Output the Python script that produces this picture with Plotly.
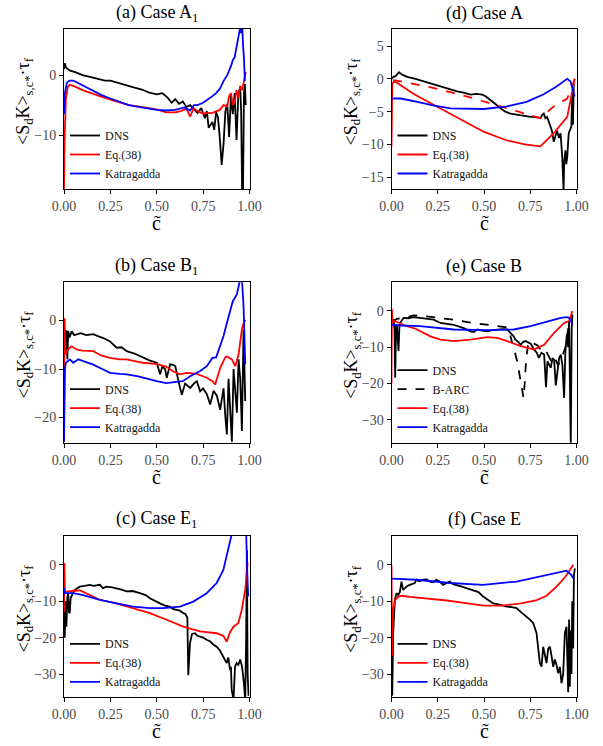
import plotly.graph_objects as go

# ---------------- data ----------------
x_tickvals = [0.0, 0.25, 0.5, 0.75, 1.0]
x_ticktext = ["0.00", "0.25", "0.50", "0.75", "1.00"]

# (a) Case A1
a_dns_c = [0.0, 0.005, 0.01, 0.03, 0.06, 0.1, 0.14, 0.18, 0.22, 0.25, 0.3, 0.34, 0.38, 0.42, 0.46, 0.5, 0.53, 0.56, 0.58, 0.6, 0.62, 0.64, 0.66, 0.68, 0.7, 0.72, 0.74, 0.76, 0.77, 0.78, 0.8, 0.81, 0.82, 0.83, 0.84, 0.85, 0.86, 0.87, 0.88, 0.89, 0.9, 0.91, 0.92, 0.93, 0.94, 0.95, 0.955, 0.96, 0.965, 0.97, 0.975, 0.98]
a_dns_v = [1.0, 2.0, 1.3, 0.8, 0.5, 0.0, -0.3, -0.6, -0.9, -0.9, -1.4, -1.8, -2.1, -2.4, -2.9, -3.2, -3.0, -3.8, -4.6, -4.0, -4.8, -4.4, -5.3, -5.0, -5.6, -6.3, -5.5, -7.2, -6.0, -8.8, -7.8, -9.1, -6.2, -7.0, -10.5, -15.0, -11.5, -6.0, -4.8, -10.3, -3.5, -6.5, -3.0, -10.8, -3.2, -2.0, -6.0, -19.0, -20.0, -3.0, -1.5, -5.0]
a_eq_c = [0.0, 0.003, 0.01, 0.02, 0.03, 0.05, 0.1, 0.15, 0.2, 0.25, 0.3, 0.35, 0.4, 0.45, 0.5, 0.55, 0.6, 0.63, 0.66, 0.68, 0.7, 0.72, 0.75, 0.8, 0.84, 0.86, 0.88, 0.89, 0.9, 0.91, 0.92, 0.93, 0.94, 0.95, 0.96, 0.97, 0.98]
a_eq_v = [-19.0, -11.0, -4.0, -2.0, -1.6, -1.8, -2.5, -3.1, -3.6, -4.1, -4.6, -5.0, -5.2, -5.5, -5.7, -6.2, -6.2, -6.0, -5.6, -6.9, -5.5, -6.0, -6.4, -6.3, -5.8, -5.0, -5.2, -3.5, -3.0, -5.0, -4.5, -2.5, -3.8, -1.8, -2.5, -1.0, 0.5]
a_kat_c = [0.0, 0.005, 0.015, 0.03, 0.05, 0.1, 0.15, 0.2, 0.25, 0.3, 0.35, 0.4, 0.45, 0.5, 0.55, 0.6, 0.65, 0.68, 0.7, 0.72, 0.75, 0.78, 0.8, 0.82, 0.84, 0.86, 0.88, 0.9, 0.91, 0.92, 0.93, 0.94, 0.95, 0.955, 0.96, 0.965, 0.97, 0.975]
a_kat_v = [-6.5, -3.0, -1.3, -0.9, -0.9, -1.7, -2.6, -3.3, -3.9, -4.5, -5.0, -5.3, -5.6, -5.8, -5.9, -5.8, -5.4, -5.9, -5.0, -5.0, -4.6, -4.0, -3.5, -3.0, -2.3, -1.0, 0.0, 1.5, 2.5, 3.0, 4.5, 6.0, 8.0, 7.0, 9.0, 5.0, 3.0, -1.0]

# (b) Case B1
b_dns_c = [0.0, 0.005, 0.01, 0.014, 0.018, 0.023, 0.03, 0.041, 0.055, 0.068, 0.09, 0.12, 0.158, 0.19, 0.212, 0.248, 0.284, 0.31, 0.338, 0.38, 0.428, 0.46, 0.5, 0.518, 0.53, 0.545, 0.554, 0.572, 0.59, 0.6, 0.617, 0.635, 0.653, 0.68, 0.7, 0.716, 0.734, 0.75, 0.77, 0.788, 0.806, 0.824, 0.842, 0.86, 0.87, 0.878, 0.887, 0.896, 0.905, 0.914, 0.923, 0.932, 0.941, 0.95, 0.959, 0.968, 0.977]
b_dns_v = [-1.0, -2.5, -6.5, -2.0, -8.0, -2.2, -3.5, -2.2, -3.0, -2.9, -2.6, -3.0, -2.8, -3.3, -3.6, -4.3, -5.6, -5.5, -6.3, -6.8, -7.7, -8.2, -8.7, -11.1, -9.5, -10.0, -11.8, -9.0, -9.2, -9.4, -12.5, -15.3, -13.0, -13.9, -13.0, -12.5, -14.6, -14.0, -15.2, -17.3, -14.5, -15.5, -18.4, -14.0, -20.0, -23.5, -12.0, -17.5, -25.0, -10.0, -15.0, -19.0, -8.0, -12.0, -22.8, -2.0, -16.6]
b_eq_c = [0.0, 0.003, 0.008, 0.02, 0.041, 0.07, 0.1, 0.158, 0.2, 0.248, 0.3, 0.338, 0.4, 0.428, 0.5, 0.55, 0.59, 0.625, 0.66, 0.7, 0.716, 0.77, 0.8, 0.815, 0.842, 0.87, 0.878, 0.905, 0.923, 0.941, 0.96, 0.977]
b_eq_v = [-25.0, 0.5, -7.0, -6.0, -5.3, -6.0, -6.2, -6.3, -7.2, -7.7, -8.0, -8.0, -8.5, -8.7, -9.0, -9.5, -10.5, -11.1, -10.8, -11.0, -11.0, -11.8, -12.5, -13.2, -9.8, -7.5, -7.4, -8.0, -9.4, -7.0, -1.5, 0.2]
b_kat_c = [0.0, 0.005, 0.01, 0.032, 0.05, 0.077, 0.1, 0.158, 0.2, 0.248, 0.3, 0.338, 0.4, 0.428, 0.5, 0.55, 0.59, 0.64, 0.68, 0.734, 0.77, 0.8, 0.82, 0.842, 0.86, 0.878, 0.9, 0.91, 0.932, 0.945, 0.955, 0.96, 0.968, 0.977]
b_kat_v = [-25.0, -10.0, -8.7, -8.0, -8.7, -8.0, -8.3, -9.1, -9.9, -10.8, -11.0, -11.1, -11.5, -11.8, -12.5, -12.9, -12.7, -12.5, -11.5, -10.4, -9.4, -7.7, -7.6, -5.0, -3.2, -0.5, 2.3, 4.0, 5.4, 8.0, 9.5, 8.0, 3.0, -9.0]

# (c) Case E1
c_dns_c = [0.0, 0.004, 0.008, 0.013, 0.018, 0.022, 0.027, 0.031, 0.036, 0.04, 0.05, 0.058, 0.07, 0.085, 0.11, 0.139, 0.16, 0.193, 0.21, 0.229, 0.26, 0.283, 0.31, 0.337, 0.37, 0.409, 0.44, 0.463, 0.49, 0.517, 0.545, 0.571, 0.59, 0.607, 0.625, 0.643, 0.655, 0.661, 0.665, 0.67, 0.675, 0.679, 0.69, 0.706, 0.72, 0.733, 0.75, 0.769, 0.787, 0.805, 0.823, 0.84, 0.859, 0.868, 0.877, 0.886, 0.895, 0.9, 0.904, 0.914, 0.922, 0.93, 0.94, 0.95, 0.96, 0.968, 0.977, 0.982, 0.986, 0.99, 0.995]
c_dns_v = [-8.0, -20.0, -10.0, -17.0, -9.0, -7.8, -13.0, -13.3, -9.0, -8.7, -7.5, -6.9, -6.5, -6.0, -5.8, -5.5, -5.8, -5.5, -6.4, -6.0, -6.2, -6.4, -6.8, -7.3, -7.2, -7.8, -8.3, -9.2, -10.0, -10.6, -11.2, -11.5, -12.2, -12.4, -12.6, -13.3, -13.5, -14.2, -14.5, -30.3, -25.0, -21.6, -19.0, -18.8, -19.5, -19.7, -20.0, -20.6, -21.0, -21.9, -22.5, -23.5, -25.2, -26.0, -27.0, -25.5, -28.9, -28.0, -34.4, -37.0, -28.0, -27.0, -27.5, -26.0, -28.0, -31.6, -37.0, -20.0, 4.0, -30.0, -36.0]
c_eq_c = [0.0, 0.002, 0.005, 0.022, 0.05, 0.085, 0.139, 0.193, 0.283, 0.373, 0.463, 0.553, 0.643, 0.733, 0.823, 0.859, 0.877, 0.895, 0.914, 0.94, 0.958, 0.977, 0.99]
c_eq_v = [-13.0, 0.5, -7.5, -7.3, -7.2, -7.0, -8.3, -9.6, -10.6, -11.9, -13.3, -15.1, -17.0, -18.3, -18.8, -19.5, -21.1, -18.5, -17.0, -16.0, -12.4, -6.9, 0.5]
c_kat_c = [0.0, 0.004, 0.013, 0.05, 0.103, 0.157, 0.193, 0.283, 0.373, 0.463, 0.535, 0.625, 0.697, 0.769, 0.823, 0.859, 0.886, 0.908, 0.93, 0.96, 0.982, 0.988, 0.993]
c_kat_v = [-6.4, -7.8, -7.8, -7.8, -8.3, -9.2, -9.6, -10.6, -11.5, -11.9, -11.9, -11.5, -10.1, -7.8, -5.0, -1.4, 4.1, 8.1, 14.0, 14.0, 8.7, -2.0, -8.7]

# (d) Case A
d_dns_c = [0.0, 0.01, 0.022, 0.035, 0.04, 0.06, 0.085, 0.13, 0.175, 0.22, 0.265, 0.31, 0.355, 0.39, 0.427, 0.46, 0.49, 0.51, 0.535, 0.56, 0.589, 0.615, 0.643, 0.67, 0.697, 0.72, 0.751, 0.78, 0.805, 0.815, 0.823, 0.832, 0.841, 0.85, 0.859, 0.868, 0.877, 0.886, 0.895, 0.905, 0.914, 0.923, 0.93, 0.934, 0.94, 0.945, 0.95, 0.958, 0.966, 0.972, 0.977, 0.981, 0.985]
d_dns_v = [0.0, 0.3, 0.4, 0.9, 1.0, 0.6, 0.3, 0.0, -0.4, -0.8, -1.2, -1.5, -1.9, -2.1, -2.4, -2.3, -2.4, -2.7, -3.2, -3.8, -4.5, -5.0, -5.3, -5.4, -5.5, -5.7, -5.8, -5.8, -6.0, -5.5, -5.3, -6.0, -5.8, -6.5, -7.3, -8.0, -9.6, -8.5, -7.9, -9.0, -8.3, -12.0, -17.0, -12.5, -10.9, -13.0, -11.9, -8.3, -7.5, -7.3, -2.2, -7.0, -0.7]
d_eq_c = [0.0, 0.004, 0.013, 0.03, 0.12, 0.25, 0.355, 0.5, 0.625, 0.72, 0.805, 0.877, 0.95, 0.977, 0.99]
d_eq_v = [-10.4, -0.8, -0.4, -0.6, -2.3, -4.3, -6.0, -8.1, -9.4, -10.0, -10.3, -8.3, -5.8, -1.7, 0.0]
d_eqd_c = [0.009, 0.05, 0.23, 0.41, 0.59, 0.77, 0.805, 0.877, 0.95, 0.977, 0.99]
d_eqd_v = [-0.2, -0.4, -1.4, -2.7, -4.2, -5.8, -6.0, -4.2, -3.0, -1.2, 0.0]
d_kat_c = [0.004, 0.05, 0.14, 0.23, 0.32, 0.5, 0.625, 0.73, 0.82, 0.89, 0.95, 0.968, 0.99]
d_kat_v = [-3.0, -3.0, -3.5, -4.1, -4.5, -4.6, -4.2, -3.5, -2.4, -1.2, 0.0, -0.4, -2.7]

# (e) Case B
e_dns_c = [0.0, 0.005, 0.011, 0.016, 0.02, 0.025, 0.029, 0.034, 0.038, 0.043, 0.047, 0.065, 0.09, 0.12, 0.155, 0.19, 0.228, 0.264, 0.3, 0.336, 0.39, 0.427, 0.445, 0.463, 0.49, 0.517, 0.545, 0.571, 0.6, 0.626, 0.644, 0.66, 0.67, 0.685, 0.698, 0.712, 0.725, 0.74, 0.752, 0.77, 0.785, 0.797, 0.81, 0.825, 0.835, 0.843, 0.852, 0.861, 0.87, 0.879, 0.888, 0.897, 0.906, 0.915, 0.924, 0.933, 0.94, 0.948, 0.955, 0.96, 0.965, 0.969, 0.974, 0.978]
e_dns_v = [-3.0, -2.8, -2.4, -5.0, -18.4, -4.0, -3.8, -8.0, -11.0, -4.0, -3.3, -1.9, -2.0, -1.7, -1.9, -2.0, -2.4, -3.3, -3.5, -3.8, -4.7, -5.6, -5.8, -5.1, -5.4, -5.6, -5.3, -5.1, -5.0, -5.1, -6.1, -7.0, -7.9, -8.5, -9.3, -8.5, -8.3, -8.8, -9.0, -10.6, -11.5, -12.9, -11.5, -12.0, -21.0, -13.9, -15.0, -15.7, -13.0, -13.5, -20.5, -16.6, -13.0, -12.0, -15.0, -24.0, -11.0, -6.4, -10.0, -2.8, -20.0, -36.8, -5.0, -1.0]
e_barc_c = [0.0, 0.02, 0.029, 0.047, 0.065, 0.1, 0.12, 0.19, 0.264, 0.336, 0.427, 0.517, 0.57, 0.62, 0.635, 0.65, 0.665, 0.68, 0.695, 0.705, 0.714, 0.72, 0.728, 0.738, 0.752, 0.77, 0.79, 0.81, 0.825, 0.84, 0.86, 0.88, 0.9, 0.92, 0.94, 0.955, 0.965, 0.975]
e_barc_v = [-3.0, -2.5, -2.2, -2.0, -2.0, -1.5, -1.2, -1.5, -1.9, -2.4, -3.2, -3.8, -4.2, -4.5, -5.5, -8.0, -11.0, -14.0, -19.0, -22.0, -24.0, -20.0, -13.0, -9.5, -8.3, -9.0, -9.5, -11.0, -12.0, -11.5, -13.5, -12.5, -15.0, -13.0, -10.0, -5.0, -2.0, -1.0]
e_eq_c = [0.0, 0.002, 0.005, 0.02, 0.029, 0.047, 0.083, 0.13, 0.21, 0.264, 0.336, 0.427, 0.517, 0.571, 0.626, 0.698, 0.77, 0.825, 0.879, 0.933, 0.96, 0.978]
e_eq_v = [-20.0, 0.5, -3.0, -2.8, -3.0, -3.5, -4.2, -4.9, -7.0, -7.9, -8.3, -7.9, -7.2, -7.4, -8.3, -9.7, -10.6, -9.3, -6.0, -3.3, -2.8, 0.0]
e_kat_c = [0.0, 0.05, 0.155, 0.336, 0.517, 0.66, 0.752, 0.843, 0.915, 0.95, 0.96, 0.97, 0.978]
e_kat_v = [-3.8, -4.0, -4.2, -5.1, -5.3, -5.1, -4.2, -2.8, -1.9, -1.7, -1.9, -2.8, -3.8]

# (f) Case E
f_dns_c = [0.0, 0.004, 0.009, 0.014, 0.018, 0.027, 0.036, 0.045, 0.054, 0.063, 0.072, 0.085, 0.099, 0.115, 0.126, 0.135, 0.15, 0.171, 0.19, 0.207, 0.225, 0.243, 0.26, 0.279, 0.3, 0.315, 0.333, 0.351, 0.38, 0.405, 0.441, 0.47, 0.495, 0.52, 0.55, 0.59, 0.622, 0.65, 0.676, 0.7, 0.72, 0.73, 0.75, 0.766, 0.784, 0.802, 0.811, 0.82, 0.829, 0.838, 0.847, 0.856, 0.865, 0.874, 0.883, 0.892, 0.901, 0.91, 0.919, 0.928, 0.937, 0.946, 0.955, 0.96, 0.964, 0.968, 0.973, 0.977, 0.982, 0.986, 0.991]
f_dns_v = [-25.0, -36.0, -18.8, -12.0, -9.6, -7.8, -8.3, -7.5, -4.6, -6.9, -6.4, -5.8, -5.5, -5.2, -5.0, -4.1, -4.5, -4.1, -4.0, -4.6, -4.8, -4.1, -4.6, -5.5, -5.0, -4.6, -5.3, -5.5, -6.0, -6.4, -6.9, -7.5, -8.7, -9.5, -10.6, -11.0, -11.5, -11.6, -11.9, -13.0, -13.8, -14.2, -15.1, -16.0, -18.8, -27.0, -28.0, -22.5, -25.0, -27.0, -23.0, -22.5, -25.0, -28.0, -26.0, -27.5, -29.8, -28.0, -32.5, -30.0, -18.8, -17.0, -35.0, -15.0, -33.5, -18.0, -30.0, -10.0, -23.0, -3.0, -1.0]
f_eq_c = [0.0, 0.003, 0.009, 0.02, 0.036, 0.054, 0.1, 0.2, 0.3, 0.4, 0.5, 0.6, 0.7, 0.78, 0.838, 0.892, 0.937, 0.964, 0.982]
f_eq_v = [0.0, -25.0, -12.4, -9.6, -8.8, -8.5, -8.8, -9.2, -9.8, -10.5, -11.2, -11.2, -10.6, -9.8, -8.5, -6.0, -3.5, -1.5, 0.0]
f_kat_c = [0.0, 0.05, 0.135, 0.315, 0.495, 0.676, 0.8, 0.91, 0.946, 0.973, 0.982]
f_kat_v = [-3.8, -3.9, -4.1, -5.0, -5.5, -4.6, -3.2, -1.8, -1.6, -2.8, -3.7]

titles = ["(a) Case A<sub>1</sub>", "(b) Case B<sub>1</sub>", "(c) Case E<sub>1</sub>",
          "(d) Case A", "(e) Case B", "(f) Case E"]
y_ranges = [[-19.0, 7.7], [-25.2, 7.9], [-36.4, 8.0], [-16.8, 7.6], [-36.3, 7.9], [-36.4, 8.0]]
y_tickvals = [[0, -10], [0, -10, -20], [0, -10, -20, -30],
              [5, 0, -5, -10, -15], [0, -10, -20, -30], [0, -10, -20, -30]]
y_ticktext = [["0", "\u221210"], ["0", "\u221210", "\u221220"], ["0", "\u221210", "\u221220", "\u221230"],
              ["5", "0", "\u22125", "\u221210", "\u221215"], ["0", "\u221210", "\u221220", "\u221230"],
              ["0", "\u221210", "\u221220", "\u221230"]]
ylabel = "&lt;S<sub>d</sub>K&gt;<sub>s,c*</sub>·τ<sub>f</sub>"
xlabel = "c̃"

# ---------------- layout geometry (window pixels) ----------------
W, H = 603, 746
col_px = [(64.0, 249.5), (391.5, 576.5)]
row_px = [(29.0, 189.0), (282.3, 442.7), (535.7, 697.3)]
panel_pos = [(0, 0), (0, 1), (0, 2), (1, 0), (1, 1), (1, 2)]  # (col,row)


def px(x):
    return x / W


def py(y):
    return 1 - y / H


SERIF = "Liberation Serif"
fig = go.Figure()

series = [
    [(a_dns_c, a_dns_v, "DNS", "black", "solid", True), (a_eq_c, a_eq_v, "Eq.(38)", "red", "solid", True), (a_kat_c, a_kat_v, "Katragadda", "blue", "solid", True)],
    [(b_dns_c, b_dns_v, "DNS", "black", "solid", True), (b_eq_c, b_eq_v, "Eq.(38)", "red", "solid", True), (b_kat_c, b_kat_v, "Katragadda", "blue", "solid", True)],
    [(c_dns_c, c_dns_v, "DNS", "black", "solid", True), (c_eq_c, c_eq_v, "Eq.(38)", "red", "solid", True), (c_kat_c, c_kat_v, "Katragadda", "blue", "solid", True)],
    [(d_dns_c, d_dns_v, "DNS", "black", "solid", True), (d_eq_c, d_eq_v, "Eq.(38)", "red", "solid", True), (d_eqd_c, d_eqd_v, "Eq.(38) dashed", "red", "dash", False), (d_kat_c, d_kat_v, "Katragadda", "blue", "solid", True)],
    [(e_dns_c, e_dns_v, "DNS", "black", "solid", True), (e_barc_c, e_barc_v, "B-ARC", "black", "dash", True), (e_eq_c, e_eq_v, "Eq.(38)", "red", "solid", True), (e_kat_c, e_kat_v, "Katragadda", "blue", "solid", True)],
    [(f_dns_c, f_dns_v, "DNS", "black", "solid", True), (f_eq_c, f_eq_v, "Eq.(38)", "red", "solid", True), (f_kat_c, f_kat_v, "Katragadda", "blue", "solid", True)],
]

annotations = []
for i in range(6):
    col, row = panel_pos[i]
    x0, x1 = col_px[col]
    y0, y1 = row_px[row]
    sfx = "" if i == 0 else str(i + 1)
    lname = "legend" if i == 0 else "legend" + str(i + 1)
    xd = [px(x0), px(x1)]
    yd = [py(y1), py(y0)]
    axis_common = dict(showline=True, mirror=True, linecolor="black", linewidth=1, automargin=False,
                       ticks="outside", ticklen=4, tickcolor="black", showgrid=False, zeroline=False,
                       tickfont=dict(family=SERIF, size=14, color="#4a4a4a"))
    fig.layout["xaxis" + sfx] = dict(domain=xd, range=[0, 1], anchor="y" + sfx,
                                     tickvals=x_tickvals, ticktext=x_ticktext, **axis_common)
    fig.layout["yaxis" + sfx] = dict(domain=yd, range=y_ranges[i], anchor="x" + sfx,
                                     tickvals=y_tickvals[i], ticktext=y_ticktext[i], **axis_common)
    for (cx, cv, name, color, dash, show) in series[i]:
        fig.add_trace(go.Scatter(x=cx, y=cv, mode="lines", name=name,
                                 line=dict(color=color, width=1.8, dash=dash),
                                 xaxis="x" + sfx, yaxis="y" + sfx,
                                 showlegend=show, legend=lname))
    fig.layout[lname] = dict(x=px(x0 + 1), y=py(y1 - 1), xanchor="left", yanchor="bottom",
                             bgcolor="rgba(0,0,0,0)", borderwidth=0,
                             font=dict(family=SERIF, size=12, color="#111"),
                             itemwidth=30, tracegroupgap=0)
    cxm = (x0 + x1) / 2
    annotations.append(dict(text=titles[i], x=px(cxm), y=py(y0 - 16), xref="paper", yref="paper",
                            showarrow=False, xanchor="center", yanchor="middle",
                            font=dict(family=SERIF, size=18, color="black")))
    annotations.append(dict(text=xlabel, x=px(cxm), y=py(y1 + 21), xref="paper", yref="paper",
                            showarrow=False, xanchor="center", yanchor="top",
                            font=dict(family=SERIF, size=20, color="black")))
    annotations.append(dict(text=ylabel, x=px(x0 - 39), y=py((y0 + y1) / 2 - 8), xref="paper", yref="paper",
                            showarrow=False, xanchor="center", yanchor="middle", textangle=-90,
                            font=dict(family=SERIF, size=18, color="black")))

fig.update_layout(width=W, height=H, margin=dict(l=0, r=0, t=0, b=0, autoexpand=False),
                  paper_bgcolor="white", plot_bgcolor="white",
                  annotations=annotations, showlegend=True)
fig.write_html("out.html", config={"displayModeBar": False},
               post_script="document.body.style.margin='0px';document.body.style.overflow='hidden';")
